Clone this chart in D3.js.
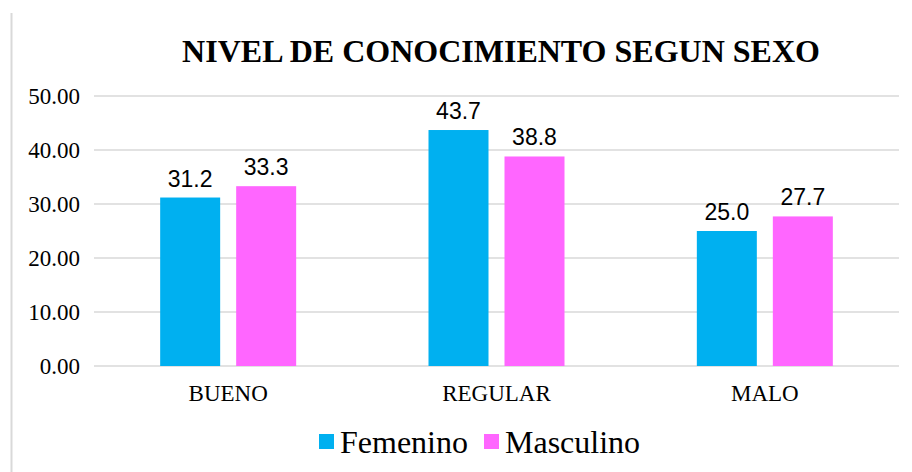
<!DOCTYPE html>
<html>
<head>
<meta charset="utf-8">
<script src="https://cdn.jsdelivr.net/npm/d3@7"></script>
<style>
  body { margin: 0; background: #fff; }
</style>
</head>
<body>
<script>
var categories = ["BUENO", "REGULAR", "MALO"],
    series = ["Femenino", "Masculino"],
    femenino = [31.2, 43.7, 25.0],
    masculino = [33.3, 38.8, 27.7],
    yTicks = [0, 10, 20, 30, 40, 50],
    colors = ["#00B0F0", "#FF66FF"];

var width = 912,
    height = 472,
    mLeft = 94,
    mRight = 899,
    mTop = 96,
    mBottom = 366,
    serif = "'Liberation Serif', 'Times New Roman', serif";

var values = [femenino, masculino];

var xSc = d3.scaleBand()
  .domain(categories)
  .range([mLeft, mRight]);

var xInner = d3.scaleBand()
  .domain(series)
  .range([0, 136])
  .paddingInner(16 / 76);

var ySc = d3.scaleLinear()
  .domain([0, 50])
  .range([mBottom, mTop]);

var svg = d3.select("body").append("svg")
  .attr("width", width)
  .attr("height", height);

// borde izquierdo
svg.append("line")
  .attr("x1", 11.5).attr("x2", 11.5)
  .attr("y1", 13).attr("y2", height)
  .attr("stroke", "#d9d9d9")
  .attr("stroke-width", 2);

// rejilla
svg.selectAll("line.grid")
  .data(yTicks)
  .enter()
    .append("line")
    .attr("class", "grid")
    .attr("x1", mLeft)
    .attr("x2", mRight)
    .attr("y1", function(d) { return Math.round(ySc(d)); })
    .attr("y2", function(d) { return Math.round(ySc(d)); })
    .attr("stroke", "#d9d9d9")
    .attr("stroke-width", 1.5);

// eje y
var yAxis = d3.axisLeft(ySc)
  .tickValues(yTicks)
  .tickSize(0)
  .tickPadding(14)
  .tickFormat(d3.format(".2f"));

svg.append("g")
  .attr("transform", "translate(" + mLeft + ",0)")
  .call(yAxis)
  .call(function(g) { g.select(".domain").remove(); })
  .selectAll("text")
    .style("font-family", serif)
    .style("font-size", "23px")
    .attr("fill", "#000");

// eje x
var xAxis = d3.axisBottom(xSc).tickSize(0).tickPadding(19);

svg.append("g")
  .attr("transform", "translate(0," + mBottom + ")")
  .call(xAxis)
  .call(function(g) { g.select(".domain").remove(); })
  .selectAll("text")
    .style("font-family", serif)
    .style("font-size", "23px")
    .attr("fill", "#000");

// barras
function rows(d, i) {
  return categories.map(function(c, j) { return {cat: c, serie: d, v: values[i][j]}; });
}
function barX(d) {
  return xSc(d.cat) + (xSc.bandwidth() - 136) / 2 + xInner(d.serie);
}

var groups = svg.selectAll("g.serie")
  .data(series)
  .enter()
    .append("g")
    .attr("class", "serie")
    .attr("fill", function(d, i) { return colors[i]; });

groups.selectAll("rect")
  .data(rows)
  .enter()
    .append("rect")
    .attr("x", barX)
    .attr("y", function(d) { return ySc(d.v); })
    .attr("width", xInner.bandwidth())
    .attr("height", function(d) { return mBottom - ySc(d.v); });

groups.selectAll("text")
  .data(rows)
  .enter()
    .append("text")
    .attr("x", function(d) { return barX(d) + xInner.bandwidth() / 2; })
    .attr("y", function(d) { return ySc(d.v) - 11; })
    .attr("text-anchor", "middle")
    .style("font-family", "'Liberation Sans', Arial, sans-serif")
    .style("font-size", "23px")
    .attr("fill", "#000")
    .text(function(d) { return d.v.toFixed(1); });

// titulo
svg.append("text")
  .attr("x", 501)
  .attr("y", 62)
  .attr("text-anchor", "middle")
  .style("font-family", serif)
  .style("font-weight", "bold")
  .style("font-size", "32px")
  .text("NIVEL DE CONOCIMIENTO SEGUN SEXO");

// leyenda
var legX = [319, 484];
var leg = svg.selectAll("g.ley")
  .data(series)
  .enter()
    .append("g")
    .attr("class", "ley")
    .attr("transform", function(d, i) { return "translate(" + legX[i] + ",434)"; });

leg.append("rect")
  .attr("width", 15)
  .attr("height", 15)
  .attr("fill", function(d, i) { return colors[i]; });

leg.append("text")
  .attr("x", 21)
  .attr("y", 19)
  .style("font-family", serif)
  .style("font-size", "32px")
  .text(function(d) { return d; });
</script>
</body>
</html>
